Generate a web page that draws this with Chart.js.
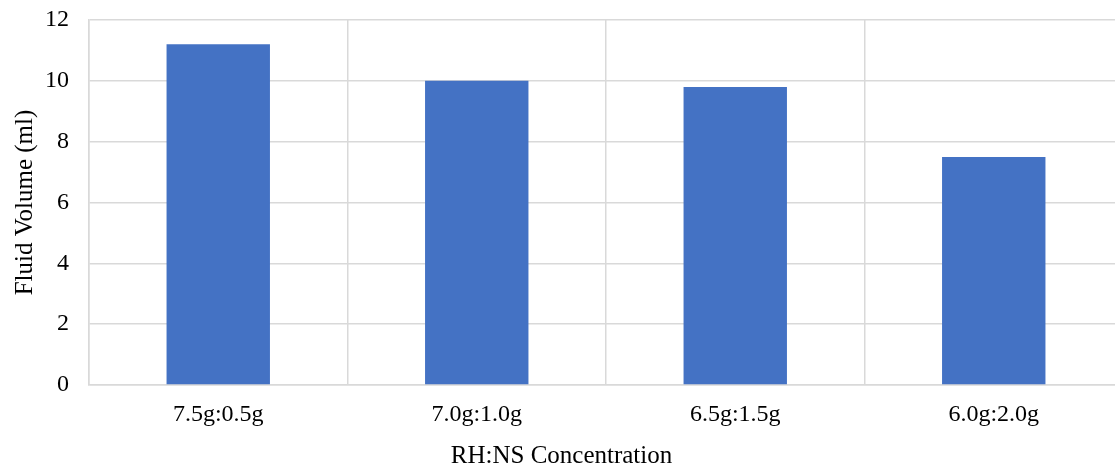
<!DOCTYPE html>
<html>
<head>
<meta charset="utf-8">
<script src="https://cdn.jsdelivr.net/npm/chart.js@4"></script>
<style>
  html, body { margin: 0; padding: 0; background: #fff; overflow: hidden; }
  #wrap { width: 1145px; height: 469px; }
</style>
</head>
<body>
<div id="wrap"><canvas id="chart" width="1145" height="469"></canvas></div>
<script>
// RH:NS 濃度對應的液體體積（原圖右側被裁掉一部分）
const categories = ['7.5g:0.5g', '7.0g:1.0g', '6.5g:1.5g', '6.0g:2.0g'];
const fluidVolume = [11.2, 10.0, 9.8, 7.5];
const yTicks = [0, 2, 4, 6, 8, 10, 12];

const FONT = 'Liberation Serif, "Times New Roman", serif';
const GRID = '#d9d9d9';

new Chart(document.getElementById('chart'), {
  type: 'bar',
  data: {
    labels: categories,
    datasets: [{
      data: fluidVolume,
      backgroundColor: '#4472c4',
      barPercentage: 0.4,
      categoryPercentage: 1,
    }],
  },
  options: {
    responsive: false,
    animation: false,
    layout: { padding: { top: 20, left: 0, right: 22, bottom: 0 } },
    plugins: {
      legend: { display: false },
      tooltip: { enabled: false },
      title: {
        display: true, position: 'bottom', text: 'RH:NS Concentration',
        color: '#000', font: { family: FONT, size: 25, weight: 'normal', lineHeight: 1 },
        padding: { top: 0, bottom: 0 },
      },
    },
    scales: {
      x: {
        grid: { color: GRID, lineWidth: 1.5, drawTicks: false },
        border: { color: GRID, width: 1.5 },
        ticks: { color: '#000', font: { family: FONT, size: 24 }, padding: 15 },
        afterFit: (s) => { s.height = 59; },
      },
      y: {
        min: 0, max: 12,
        afterBuildTicks: (s) => { s.ticks = yTicks.map((v) => ({ value: v })); },
        grid: { color: GRID, lineWidth: 1.5, drawTicks: false },
        border: { color: GRID, width: 1.5 },
        ticks: { color: '#000', font: { family: FONT, size: 24 }, padding: 20 },
        title: { display: true, text: 'Fluid Volume (ml)', color: '#000', font: { family: FONT, size: 25 }, padding: { top: 10, bottom: 0 } },
        afterFit: (s) => { s.width = 89; s.paddingTop = 0; s.paddingBottom = 0; },
      },
    },
  },
});
</script>
</body>
</html>
